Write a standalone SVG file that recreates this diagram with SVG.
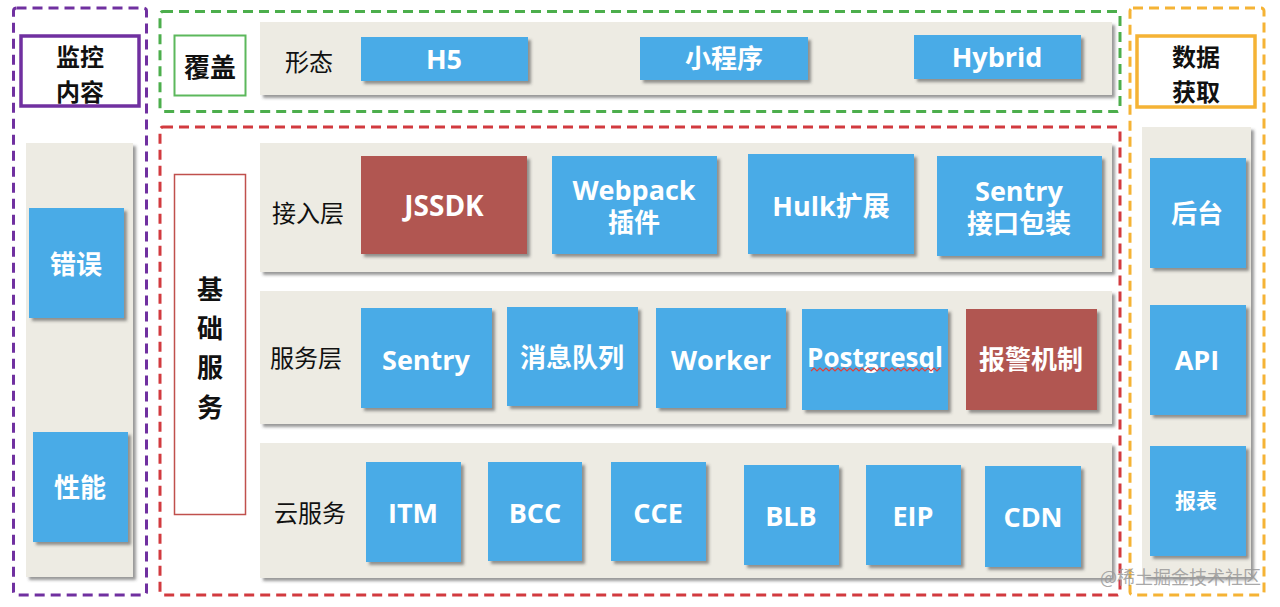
<svg xmlns="http://www.w3.org/2000/svg" width="1280" height="607" viewBox="0 0 1280 607">
<defs>
<filter id="sh" x="-10%" y="-10%" width="130%" height="130%">
<feDropShadow dx="3" dy="3" stdDeviation="1.5" flood-color="#444" flood-opacity="0.55"/>
</filter>
<style>
.panel{fill:#edebe3;filter:url(#sh)}
.blue{fill:#4aabe7;filter:url(#sh)}
.redbox{fill:#b15751;filter:url(#sh)}
.bt{font-family:"Open Sans","Noto Sans CJK SC",sans-serif;font-weight:700;fill:#fff;text-anchor:middle;dominant-baseline:central}
.lab{font-family:"Noto Sans CJK SC",sans-serif;font-size:24px;fill:#111;text-anchor:middle;dominant-baseline:central}
.hd{font-family:"Noto Sans CJK SC",sans-serif;font-weight:700;font-size:26px;fill:#111;text-anchor:middle;dominant-baseline:central}
.hd2{font-family:"Noto Sans CJK SC",sans-serif;font-weight:700;font-size:24px;fill:#111;text-anchor:middle;dominant-baseline:central}
.dash{fill:none;stroke-width:3;stroke-dasharray:10 6}
</style>
</defs>
<rect width="1280" height="607" fill="#fff"/>

<!-- dashed group frames -->
<g id="frames">
<rect class="dash" x="13.5" y="8" width="133" height="587" rx="3" stroke="#7030a0"/>
<rect class="dash" x="160" y="11.5" width="960" height="100" rx="3" stroke="#4cae4c"/>
<rect class="dash" x="160" y="127" width="960" height="468" rx="3" stroke="#d23a3f"/>
<rect class="dash" x="1130" y="8" width="134" height="587" rx="3" stroke="#f5b335"/>
</g>

<!-- left column: 监控内容 -->
<g id="monitor">
<rect x="21" y="36" width="118" height="70" fill="#fff" stroke="#7030a0" stroke-width="3.5"/>
<text class="hd2" x="80" y="55">监控</text>
<text class="hd2" x="80" y="90">内容</text>
<rect class="panel" x="26" y="143" width="107" height="434"/>
</g>
<g id="err"><rect class="blue" x="29" y="208" width="95" height="110"/><text class="bt" x="76" y="264" font-size="26">错误</text></g>
<g id="perf"><rect class="blue" x="33" y="432" width="95" height="110"/><text class="bt" x="80" y="487" font-size="26">性能</text></g>

<!-- 覆盖 row -->
<g id="cover">
<rect x="174.5" y="35.5" width="71" height="60" fill="#fff" stroke="#5cb85c" stroke-width="2"/>
<text class="hd" x="210" y="65" font-size="27">覆盖</text>
<rect class="panel" x="260" y="22" width="852" height="73"/>
<text class="lab" x="309" y="60">形态</text>
</g>
<g id="h5"><rect class="blue" x="361" y="37" width="167" height="44"/><text class="bt" x="444" y="58" font-size="27">H5</text></g>
<g id="miniapp"><rect class="blue" x="640" y="37" width="168" height="43"/><text class="bt" x="724" y="58" font-size="26">小程序</text></g>
<g id="hybrid"><rect class="blue" x="914" y="35" width="167" height="44"/><text class="bt" x="997" y="56" font-size="27">Hybrid</text></g>

<!-- 基础服务 -->
<g id="base">
<rect x="174.5" y="174.5" width="71" height="340" fill="#fff" stroke="#c0504d" stroke-width="1.5"/>
<text class="hd" x="210" y="287" font-size="34">基</text>
<text class="hd" x="210" y="326" font-size="34">础</text>
<text class="hd" x="210" y="365" font-size="34">服</text>
<text class="hd" x="210" y="405" font-size="34">务</text>
</g>

<!-- 接入层 -->
<g id="access">
<rect class="panel" x="260" y="143" width="852" height="129"/>
<text class="lab" x="308" y="211">接入层</text>
</g>
<g id="jssdk"><rect class="redbox" x="361" y="156" width="166" height="98"/><text class="bt" x="444" y="205" font-size="28">JSSDK</text></g>
<g id="webpack"><rect class="blue" x="552" y="156" width="165" height="98"/><text class="bt" x="634" y="189" font-size="27">Webpack</text><text class="bt" x="634" y="222" font-size="26">插件</text></g>
<g id="hulk"><rect class="blue" x="748" y="154" width="166" height="100"/><text class="bt" x="831" y="205" font-size="27">Hulk扩展</text></g>
<g id="sentrywrap"><rect class="blue" x="937" y="156" width="165" height="100"/><text class="bt" x="1019" y="190" font-size="27">Sentry</text><text class="bt" x="1019" y="223" font-size="26">接口包装</text></g>

<!-- 服务层 -->
<g id="service">
<rect class="panel" x="260" y="291" width="852" height="133"/>
<text class="lab" x="306" y="356">服务层</text>
</g>
<g id="sentry"><rect class="blue" x="361" y="308" width="131" height="100"/><text class="bt" x="426" y="359" font-size="27">Sentry</text></g>
<g id="mq"><rect class="blue" x="507" y="307" width="131" height="99"/><text class="bt" x="572" y="357" font-size="26">消息队列</text></g>
<g id="worker"><rect class="blue" x="656" y="308" width="130" height="100"/><text class="bt" x="721" y="359" font-size="27">Worker</text></g>
<g id="postgresql"><rect class="blue" x="802" y="309" width="146" height="101"/><text class="bt" x="875" y="357" font-size="26">Postgresql</text>
<polyline points="811,371 814,368 817,371 820,368 823,371 826,368 829,371 832,368 835,371 838,368 841,371 844,368 847,371 850,368 853,371 856,368 859,371 862,368 865,371 868,368 871,371 874,368 877,371 880,368 883,371 886,368 889,371 892,368 895,371 898,368 901,371 904,368 907,371 910,368 913,371 916,368 919,371 922,368 925,371 928,368 931,371 934,368 937,371 940,368" fill="none" stroke="#e0403a" stroke-width="1.2"/></g>
<g id="alarm"><rect class="redbox" x="966" y="309" width="131" height="101"/><text class="bt" x="1031" y="359" font-size="26">报警机制</text></g>

<!-- 云服务 -->
<g id="cloud">
<rect class="panel" x="260" y="443" width="852" height="135"/>
<text class="lab" x="310" y="511">云服务</text>
</g>
<g id="itm"><rect class="blue" x="366" y="462" width="95" height="100"/><text class="bt" x="413" y="512" font-size="27">ITM</text></g>
<g id="bcc"><rect class="blue" x="488" y="462" width="94" height="99"/><text class="bt" x="535" y="512" font-size="27">BCC</text></g>
<g id="cce"><rect class="blue" x="611" y="462" width="95" height="99"/><text class="bt" x="658" y="512" font-size="27">CCE</text></g>
<g id="blb"><rect class="blue" x="744" y="465" width="95" height="100"/><text class="bt" x="791" y="515" font-size="27">BLB</text></g>
<g id="eip"><rect class="blue" x="866" y="465" width="95" height="100"/><text class="bt" x="913" y="515" font-size="27">EIP</text></g>
<g id="cdn"><rect class="blue" x="985" y="466" width="96" height="101"/><text class="bt" x="1033" y="516" font-size="27">CDN</text></g>

<!-- right column: 数据获取 -->
<g id="data">
<rect x="1137" y="36" width="118" height="71" fill="#fff" stroke="#f5b335" stroke-width="3.5"/>
<text class="hd2" x="1196" y="55">数据</text>
<text class="hd2" x="1196" y="90">获取</text>
<rect class="panel" x="1142" y="127" width="109" height="450"/>
</g>
<g id="backend"><rect class="blue" x="1150" y="158" width="96" height="110"/><text class="bt" x="1197" y="213" font-size="26">后台</text></g>
<g id="api"><rect class="blue" x="1150" y="305" width="96" height="110"/><text class="bt" x="1197" y="359" font-size="27">API</text></g>
<g id="report"><rect class="blue" x="1150" y="446" width="96" height="110"/><text class="bt" x="1196" y="500" font-size="21">报表</text></g>

<g id="connectors"></g>

<text x="1261" y="584" font-family="Noto Sans CJK SC,sans-serif" font-size="18" fill="#999" fill-opacity="0.85" text-anchor="end">@稀土掘金技术社区</text>
</svg>
